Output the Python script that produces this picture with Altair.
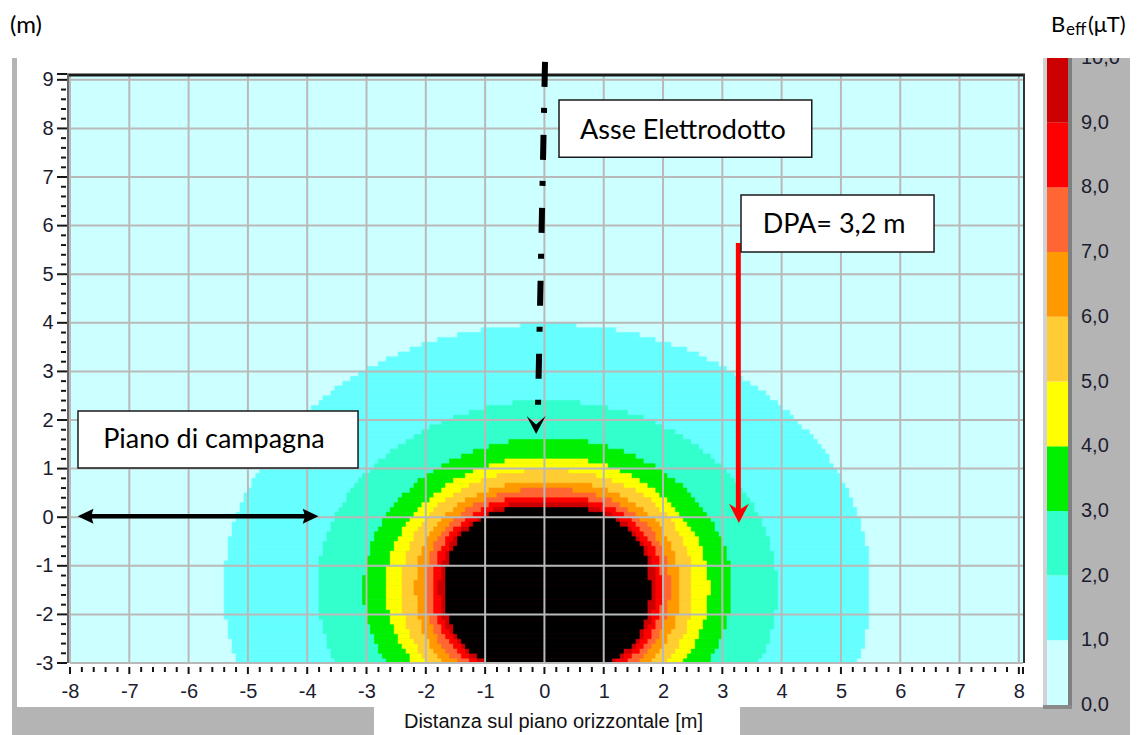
import math
import pandas as pd
import altair as alt

# ------------------------------------------------------------------ data
BAND_LOWER = [0, 1, 2, 3, 4, 5, 6, 7, 8, 9, 10]          # B_eff bands in µT (10 = above 10)
BAND_COLORS = ["#CCFFFF", "#66FFFF", "#33FFCC", "#00F000", "#FFFF00",
               "#FFCC33", "#FF9900", "#FF6633", "#FF0000", "#CC0000", "#000000"]
COLORBAR_VALUES = [0, 1, 2, 3, 4, 5, 6, 7, 8, 9, 10]
COLORBAR_LABELS = ["0,0", "1,0", "2,0", "3,0", "4,0", "5,0", "6,0", "7,0", "8,0", "9,0", "10,0"]

# iso-B contours: outer boundary of the region where B_eff >= level
CONTOUR_LEVELS = [1, 2, 3, 4, 5, 6, 7, 8, 9, 10]
CONTOUR_RADII = [5.45, 3.87, 3.10, 2.72, 2.45, 2.22, 2.06, 1.93, 1.82, 1.72]   # m
CONTOUR_SHAPE = [2.0, 2.0, 2.0, 2.0, 2.15, 2.2, 2.2, 2.2, 2.2, 2.4]            # roundness (2 = circle)
CABLE_X = 0.05     # centre of the contours (m)
CABLE_Y = -1.48
CELL_DX = 1 / 15   # calculation grid of the field map (m)
CELL_DY = 0.1

X_TICKS = [-8, -7, -6, -5, -4, -3, -2, -1, 0, 1, 2, 3, 4, 5, 6, 7, 8]
Y_TICKS = [-3, -2, -1, 0, 1, 2, 3, 4, 5, 6, 7, 8, 9]
X_DOMAIN = [-8.0, 8.07]
Y_DOMAIN = [-3.0, 9.12]

# annotations (data coordinates)
AXIS_LINE_X = [0.01, -0.11]
AXIS_LINE_Y = [9.37, 2.17]
AXIS_HEAD = (-0.14, 1.71)
DPA_X = 3.27
DPA_Y = [5.64, 0.10]
DPA_HEAD = (3.28, -0.12)
GROUND_X = [-7.75, -3.93]
GROUND_Y = 0.02
GROUND_HEADS_X = [-7.87, -3.81]
BOX_TEXT = ["Asse Elettrodotto", "DPA= 3,2 m", "Piano di campagna"]
BOX_X1 = [0.246, 3.315, -7.865]
BOX_X2 = [4.508, 6.570, -3.143]
BOX_Y1 = [8.587, 6.632, 2.187]
BOX_Y2 = [7.407, 5.459, 1.014]
TEXT_X = [0.60, 3.68, -7.44]
TEXT_Y = [7.78, 5.85, 1.42]

# ------------------------------------------------------------------ layout
W, H = 953, 589
OX, OY = 70, 74            # page position of the plot area
PAD = dict(left=OX - 8, top=OY - 8, right=1145 - 8 - OX - W, bottom=735 - OY - H)
GREY = "#B4B4B4"
GRID = "#B9B9B9"
LABEL_COLOR = "#1c1c30"
TICK_FONT = "Liberation Sans"
ANN_FONT = "Lato"


def vx(p):
    return p - OX


def vy(p):
    return p - OY


NEG = "datum.value < 0 ? '-' + format(-datum.value, 'd') : format(datum.value, 'd')"
xs = alt.Scale(domain=X_DOMAIN, nice=False, zero=False)
ys = alt.Scale(domain=Y_DOMAIN, nice=False, zero=False)
x_axis = alt.Axis(values=X_TICKS, orient="bottom", ticks=False, tickSize=0, domain=False, grid=False,
                  labelFont=TICK_FONT, labelFontSize=20, labelColor=LABEL_COLOR,
                  labelBaseline="alphabetic", labelPadding=34, labelExpr=NEG,
                  labelFlush=False, labelOverlap=False, title=None)
y_axis = alt.Axis(values=Y_TICKS, orient="left", ticks=False, tickSize=0, domain=False, grid=False,
                  labelFont=TICK_FONT, labelFontSize=20, labelColor=LABEL_COLOR,
                  labelAlign="right", labelBaseline="middle", labelPadding=17, labelExpr=NEG,
                  labelFlush=False, labelOverlap=False, title=None)


def X(f):
    return alt.X(f, type="quantitative", scale=xs, axis=x_axis)


def Y(f):
    return alt.Y(f, type="quantitative", scale=ys, axis=y_axis)


color_scale = alt.Scale(domain=BAND_LOWER, range=BAND_COLORS)
one = pd.DataFrame({"a": [0]})

# ------------------------------------------------------------------ field map cells
rows = []
for lev, r, p in zip(CONTOUR_LEVELS, CONTOUR_RADII, CONTOUR_SHAPE):
    k = 0
    while True:
        y1 = Y_DOMAIN[0] + k * CELL_DY
        if y1 >= Y_DOMAIN[1]:
            break
        d = abs(y1 + CELL_DY / 2 - CABLE_Y)
        if d < r:
            w = r * (1 - (d / r) ** p) ** (1 / p)
            x1 = round((CABLE_X - w) / CELL_DX) * CELL_DX
            x2 = round((CABLE_X + w) / CELL_DX) * CELL_DX
            if x2 > x1:
                rows.append(dict(band=lev, x1=x1, x2=x2, y1=y1, y2=min(y1 + CELL_DY, Y_DOMAIN[1])))
        k += 1
heat_df = pd.DataFrame(rows)

heat = alt.Chart(heat_df).mark_rect(strokeWidth=0.6).encode(
    x=X("x1"), x2="x2", y=Y("y1"), y2="y2",
    fill=alt.Fill("band:O", scale=color_scale, legend=None),
    stroke=alt.Stroke("band:O", scale=color_scale, legend=None),
)

grid_v = alt.Chart(pd.DataFrame({"v": X_TICKS})).mark_rule(color=GRID, strokeWidth=2).encode(
    x=X("v"), y=alt.value(0), y2=alt.value(H))
grid_h = alt.Chart(pd.DataFrame({"v": Y_TICKS})).mark_rule(color=GRID, strokeWidth=2).encode(
    y=Y("v"), x=alt.value(0), x2=alt.value(W))

# ticks
x_major = X_TICKS + [X_DOMAIN[1]]
y_major = Y_TICKS + [Y_DOMAIN[1]]
x_minor = [round(-8 + 0.2 * k, 1) for k in range(81) if k % 5 != 0]
y_minor = [round(-3 + 0.2 * k, 1) for k in range(61) if k % 5 != 0]
TK = "#151515"
xt_major = alt.Chart(pd.DataFrame({"v": x_major})).mark_rule(color=TK, strokeWidth=2).encode(
    x=X("v"), y=alt.value(H + 4), y2=alt.value(H + 11))
xt_minor = alt.Chart(pd.DataFrame({"v": x_minor})).mark_rule(color=TK, strokeWidth=2).encode(
    x=X("v"), y=alt.value(H + 4), y2=alt.value(H + 9))
yt_major = alt.Chart(pd.DataFrame({"v": y_major})).mark_rule(color=TK, strokeWidth=2).encode(
    y=Y("v"), x=alt.value(-13), x2=alt.value(-3))
yt_minor = alt.Chart(pd.DataFrame({"v": y_minor})).mark_rule(color=TK, strokeWidth=2).encode(
    y=Y("v"), x=alt.value(-9), x2=alt.value(-4))

# frame
frame_top = alt.Chart(one).mark_rule(color="#1a1a1a", strokeWidth=3).encode(
    x=alt.value(-3), x2=alt.value(W + 2), y=alt.value(1))
frame_right = alt.Chart(one).mark_rule(color="#333333", strokeWidth=2).encode(
    x=alt.value(W + 1), y=alt.value(0), y2=alt.value(H))
frame_left = alt.Chart(one).mark_rule(color="#666666", strokeWidth=2).encode(
    x=alt.value(-2), y=alt.value(0), y2=alt.value(H))

# annotations
axis_line = alt.Chart(pd.DataFrame({"x": AXIS_LINE_X, "y": AXIS_LINE_Y, "i": [0, 1]})).mark_line(
    color="black", strokeWidth=6, strokeDash=[25, 21, 5, 22], strokeCap="butt").encode(
    x=X("x"), y=Y("y"), order="i:Q")
CHEVRON = "M0,0L-1,-1.9L0,-1L1,-1.9Z"
axis_head = alt.Chart(pd.DataFrame({"x": [AXIS_HEAD[0]], "y": [AXIS_HEAD[1]]})).mark_point(
    shape=CHEVRON, size=361, filled=True, color="black", opacity=1, strokeWidth=0).encode(
    x=X("x"), y=Y("y"))

dpa_line = alt.Chart(pd.DataFrame({"x": [DPA_X], "y1": [DPA_Y[0]], "y2": [DPA_Y[1]]})).mark_rule(
    color="#FF0000", strokeWidth=5).encode(x=X("x"), y=Y("y1"), y2="y2")
RED_HEAD = "M0,0L-1,-1.94L0,-1.3L1,-1.94Z"
dpa_head = alt.Chart(pd.DataFrame({"x": [DPA_HEAD[0]], "y": [DPA_HEAD[1]]})).mark_point(
    shape=RED_HEAD, size=400, filled=True, color="#FF0000", opacity=1, strokeWidth=0).encode(
    x=X("x"), y=Y("y"))

ground_line = alt.Chart(pd.DataFrame({"x1": [GROUND_X[0]], "x2": [GROUND_X[1]], "y": [GROUND_Y]})).mark_rule(
    color="black", strokeWidth=4.5).encode(x=X("x1"), x2="x2", y=Y("y"))
TRI = "M0,0L-1,-2.1L0,-1.8L1,-2.1Z"
ground_left = alt.Chart(pd.DataFrame({"x": [GROUND_HEADS_X[0]], "y": [GROUND_Y]})).mark_point(
    shape=TRI, size=225, angle=90, filled=True, color="black", opacity=1, strokeWidth=0).encode(
    x=X("x"), y=Y("y"))
ground_right = alt.Chart(pd.DataFrame({"x": [GROUND_HEADS_X[1]], "y": [GROUND_Y]})).mark_point(
    shape=TRI, size=225, angle=270, filled=True, color="black", opacity=1, strokeWidth=0).encode(
    x=X("x"), y=Y("y"))

boxes = alt.Chart(pd.DataFrame({"x1": BOX_X1, "x2": BOX_X2, "y1": BOX_Y1, "y2": BOX_Y2})).mark_rect(
    fill="white", stroke="#1a1a1a", strokeWidth=1.5).encode(x=X("x1"), x2="x2", y=Y("y1"), y2="y2")
box_text = alt.Chart(pd.DataFrame({"x": TEXT_X, "y": TEXT_Y, "t": BOX_TEXT})).mark_text(
    align="left", baseline="alphabetic", font=ANN_FONT, fontSize=27, color="black").encode(
    x=X("x"), y=Y("y"), text="t:N")

main = alt.layer(heat, grid_v, grid_h, xt_major, xt_minor, yt_major, yt_minor,
                 frame_top, frame_right, frame_left,
                 axis_line, axis_head, dpa_line, dpa_head,
                 ground_line, ground_left, ground_right, boxes, box_text)

# ------------------------------------------------------------------ colour bar
cb_scale = alt.Scale(domain=[0, 10], range=[vy(705), vy(58)], nice=False, zero=False)
cb_df = pd.DataFrame({"band": BAND_LOWER[:-1], "lo": COLORBAR_VALUES[:-1], "hi": COLORBAR_VALUES[1:]})
cb_rect = alt.Chart(cb_df).mark_rect().encode(
    x=alt.value(vx(1047)), x2=alt.value(vx(1068)),
    y=alt.Y("lo:Q", scale=cb_scale, axis=None), y2="hi:Q",
    fill=alt.Fill("band:O", scale=color_scale, legend=None))
cb_text = alt.Chart(pd.DataFrame({"v": COLORBAR_VALUES, "lab": COLORBAR_LABELS})).mark_text(
    align="left", baseline="middle", font=TICK_FONT, fontSize=20, color=LABEL_COLOR).encode(
    x=alt.value(vx(1081)), y=alt.Y("v:Q", scale=cb_scale, axis=None), text="lab:N")
cb = alt.layer(cb_rect, cb_text)

# ------------------------------------------------------------------ window decorations (pixels)
deco_rows = [
    (12, 17, 58, 735, GREY),
    (12, 374, 707, 735, GREY),
    (740, 1130, 707, 735, GREY),
    (1072, 1130, 58, 735, GREY),
    (1043, 1047, 58, 709, "#D2D2D2"),
    (1068, 1072, 58, 709, "#7F7F7F"),
    (1043, 1072, 705, 709, "#8A8A8A"),
]
mask_rows = [
    (1073, 1129, 40, 58, "#FFFFFF"),
    (1073, 1129, 712, 735, GREY),
]


def pixel_rects(rows_):
    df = pd.DataFrame([dict(x1=vx(a), x2=vx(b), y1=vy(c), y2=vy(d), fill=f) for a, b, c, d, f in rows_])
    return alt.Chart(df).mark_rect().encode(
        x=alt.X("x1:Q", scale=None, axis=None), x2="x2:Q",
        y=alt.Y("y1:Q", scale=None, axis=None), y2="y2:Q",
        fill=alt.Fill("fill:N", scale=None))


deco = pixel_rects(deco_rows)
masks = pixel_rects(mask_rows)

head_df = pd.DataFrame([
    dict(x=vx(10), y=vy(33), t="(m)", s=24),
    dict(x=vx(1051), y=vy(32), t="B", s=22),
    dict(x=vx(1066), y=vy(35), t="eff", s=17),
    dict(x=vx(1088), y=vy(32), t="(μT)", s=22),
])
header = alt.Chart(head_df).mark_text(align="left", baseline="alphabetic", font=ANN_FONT, color="black").encode(
    x=alt.X("x:Q", scale=None, axis=None), y=alt.Y("y:Q", scale=None, axis=None),
    text="t:N", size=alt.Size("s:Q", scale=None, legend=None))
x_title = alt.Chart(pd.DataFrame({"x": [vx(553.5)], "y": [vy(728)], "t": ["Distanza sul piano orizzontale [m]"]})).mark_text(
    align="center", baseline="alphabetic", font=TICK_FONT, fontSize=20, color="#111111").encode(
    x=alt.X("x:Q", scale=None, axis=None), y=alt.Y("y:Q", scale=None, axis=None), text="t:N")

chart = alt.layer(deco, main, cb, masks, header, x_title).resolve_scale(y="independent").properties(
    width=W, height=H, padding=PAD, autosize=alt.AutoSizeParams(type="none")
).configure_view(fill=BAND_COLORS[0], stroke=None)

chart.save("out.html", embed_options={"renderer": "svg", "actions": False})
